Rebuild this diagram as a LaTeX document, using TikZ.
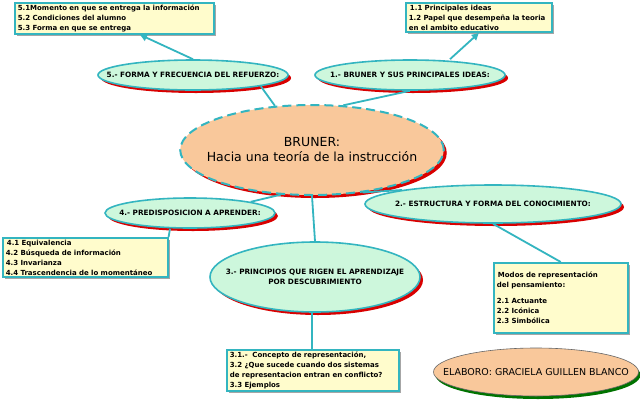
\documentclass[tikz,border=0pt]{standalone}
\usepackage{fontspec}
\setmainfont{DejaVu Sans}
\usetikzlibrary{shapes.geometric,arrows.meta,shadows}
\definecolor{teal1}{HTML}{33B5C0}
\definecolor{mint}{HTML}{CDF7DC}
\definecolor{cream}{HTML}{FFFCCC}
\definecolor{peach}{HTML}{F9C89B}
\tikzset{
 topic/.style={ellipse,draw=teal1,line width=1.6pt,fill=mint,inner xsep=-24pt,inner ysep=0pt,
   font=\bfseries\fontsize{7.3}{9.5}\selectfont,align=center,
   drop shadow={shadow xshift=3pt,shadow yshift=-3pt,fill=red!85!black,opacity=1}},
 info/.style={draw=teal1,line width=1.6pt,fill=cream,align=left,anchor=north west,
   font=\bfseries\fontsize{7}{10}\selectfont,inner xsep=3pt,inner ysep=2pt,
   drop shadow={shadow xshift=2pt,shadow yshift=-2pt,fill=gray!70,opacity=1}},
 conn/.style={teal1,line width=1.8pt},
 arr/.style={conn,-{Triangle[length=7pt,width=7pt]}},
}
\begin{document}
\begin{tikzpicture}[x=1pt,y=-1pt]
\useasboundingbox (0,0) rectangle (640,400);
\fill[white] (0,0) rectangle (640,400);
\node[ellipse,minimum width=262pt,minimum height=90pt,fill=peach,inner xsep=-12pt,inner ysep=0pt,
  align=center,font=\fontsize{12.5}{15}\selectfont,
  draw=teal1,line width=2pt,dash pattern=on 9pt off 5pt,
  drop shadow={shadow xshift=3pt,shadow yshift=-3pt,fill=red!85!black,opacity=1,draw=none}] (c) at (312,150)
  {BRUNER:\\Hacia una teoría de la instrucción};
\node[topic,minimum width=190pt,minimum height=30pt] (e5) at (193,75) {5.- FORMA Y FRECUENCIA DEL REFUERZO:};
\node[topic,minimum width=190pt,minimum height=30pt] (e1) at (410,75) {1.- BRUNER Y SUS PRINCIPALES IDEAS:};
\node[topic,minimum width=170pt,minimum height=30pt] (e4) at (190,213) {4.- PREDISPOSICION A APRENDER:};
\node[topic,minimum width=256pt,minimum height=38pt,inner xsep=-40pt] (e2) at (493,204) {2.- ESTRUCTURA Y FORMA DEL CONOCIMIENTO:};
\node[topic,minimum width=210pt,minimum height=70pt,inner xsep=-22pt] (e3) at (315,277) {3.- PRINCIPIOS QUE RIGEN EL APRENDIZAJE\\POR DESCUBRIMIENTO};
\node[info,text width=193pt] (b5) at (14,2) {5.1Momento en que se entrega la información\\5.2 Condiciones del alumno\\5.3 Forma en que se entrega};
\node[info,text width=140pt] (b1) at (405,2) {\,1.1 Principales ideas\\1.2 Papel que desempeña la teoria\\en el ambito educativo};
\node[info,text width=159pt] (b4) at (2,237) {\,4.1 Equivalencia\\4.2 Búsqueda de información\\4.3 Invarianza\\4.4 Trascendencia de lo momentáneo};
\node[info,text width=128pt,minimum height=70pt] (b2) at (493,262) {\,Modos de representación\\del pensamiento:\\[6pt]2.1 Actuante\\2.2 Icónica\\2.3 Simbólica};
\node[info,text width=166pt] (b3) at (226,349) {3.1.-\ \ Concepto de representación,\\3.2 ¿Que sucede cuando dos sistemas\\de representacion entran en conflicto?\\3.3 Ejemplos};
\node[ellipse,draw=black!60,line width=0.6pt,fill=peach,minimum width=205pt,minimum height=48pt,
  inner xsep=-28pt,inner ysep=0pt,font=\fontsize{9.5}{11}\selectfont,
  drop shadow={shadow xshift=2pt,shadow yshift=-3pt,fill=green!45!black,opacity=1}] (el) at (536,372)
  {ELABORO: GRACIELA GUILLEN BLANCO};
\draw[conn] (c.130) -- (e5.south east);
\draw[conn] (c.55) -- (e1.south);
\draw[conn] (c.235) -- (e4.north east);
\draw[conn] (c.320) -- (e2.north west);
\draw[conn] (c.south) -- (e3.north);
\draw[arr] (e5.north) -- (b5.south -| 140,0);
\draw[arr] (e1.north) ++(40,0) -- (b1.south);
\draw[conn] (e4.south) ++(-20,0) -- (b4.north east);
\draw[conn] (e2.south) -- (b2.north);
\draw[conn] (e3.south) ++(-3,0) -- (b3.north -| 312,0);
\end{tikzpicture}
\end{document}
